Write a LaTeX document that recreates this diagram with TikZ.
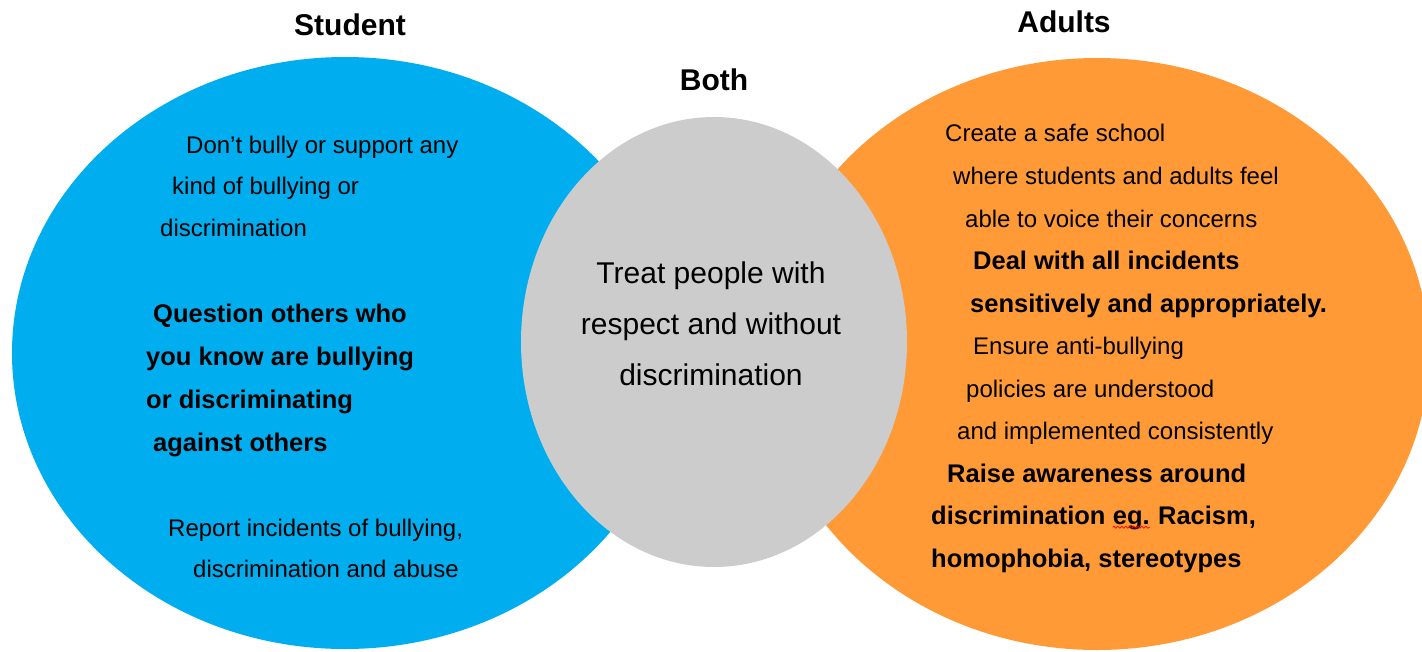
\documentclass[tikz,border=0pt]{standalone}
\usepackage{fontspec}
\setmainfont{Liberation Sans}
\usepackage{tikz}
\usetikzlibrary{shapes.geometric,positioning,decorations.pathmorphing}

\definecolor{studentblue}{RGB}{0,174,239}
\definecolor{adultorange}{RGB}{255,154,55}
\definecolor{bothgrey}{RGB}{204,204,204}

\tikzset{
  blob/.style={ellipse,draw=none,inner sep=0pt},
  heading/.style={font=\fontsize{30}{34}\selectfont\bfseries,inner sep=0pt},
  plainline/.style={anchor=west,inner sep=0pt,font=\fontsize{24}{28}\selectfont,
    text height=17pt,text depth=5pt},
  boldline/.style={plainline,font=\fontsize{25.5}{30}\selectfont\bfseries},
  spell/.style={draw=red,line width=0.7pt,decorate,
    decoration={snake,amplitude=1pt,segment length=4pt}}
}

\begin{document}
\begin{tikzpicture}[x=1pt,y=-1pt]
		\useasboundingbox (0,0) rectangle (1422,651);

		% the three sets
		\node[blob,fill=studentblue,minimum width=666pt,minimum height=592pt] (student) at (345,353) {};
		\node[blob,fill=adultorange,minimum width=664pt,minimum height=592pt] (adults) at (1097,354) {};
		\node[blob,fill=bothgrey,minimum width=386pt,minimum height=450pt] (both) at (714,342) {};

		\node[heading] (studenttitle) at (350,25) {Student};
		\node[heading] (adultstitle) at (1064,22) {Adults};
		\node[heading] (bothtitle) at (714,80) {Both};

		\node[align=center,inner sep=0pt,font=\fontsize{30}{51}\selectfont] (bothtext) at (711,324)
			{Treat people with\\respect and without\\discrimination};

		% student side
		\begin{scope}
			\node[plainline] (st1) at (186,147) {Don’t bully or support any};
			\node[plainline] (st2) at (172,188) {kind of bullying or};
			\node[plainline] (st3) at (160,230) {discrimination};

			\node[boldline] (st4) at (153,316) {Question others who};
			\node[boldline] (st5) at (146,359) {you know are bullying};
			\node[boldline] (st6) at (146,402) {or discriminating};
			\node[boldline] (st7) at (153,445) {against others};

			\node[plainline] (st8) at (168,530) {Report incidents of bullying,};
			\node[plainline] (st9) at (193,571) {discrimination and abuse};
		\end{scope}

		% adults side
		\begin{scope}
			\node[plainline] (ad1) at (945,135) {Create a safe school};
			\node[plainline] (ad2) at (953,178) {where students and adults feel};
			\node[plainline] (ad3) at (965,221) {able to voice their concerns};
			\node[boldline] (ad4) at (973,263) {Deal with all incidents};
			\node[boldline] (ad5) at (970,306) {sensitively and appropriately.};
			\node[boldline] (ad9) at (947,476) {Raise awareness around};
			\node[plainline] (ad6) at (973,348) {Ensure anti-bullying};
			\node[plainline] (ad7) at (966,391) {policies are understood};
			\node[plainline] (ad8) at (957,433) {and implemented consistently};
			\node[boldline] (ad10) at (931,518) {discrimination};
			\node[boldline,right=7pt of ad10] (eg) {eg.};
			\node[boldline,right=8pt of eg] (ad10b) {Racism,};
			\node[boldline] (ad11) at (931,561) {homophobia, stereotypes};
		\end{scope}

		\draw[spell] ([yshift=2pt]eg.south west) -- ([yshift=2pt]eg.south east);
\end{tikzpicture}
\end{document}
